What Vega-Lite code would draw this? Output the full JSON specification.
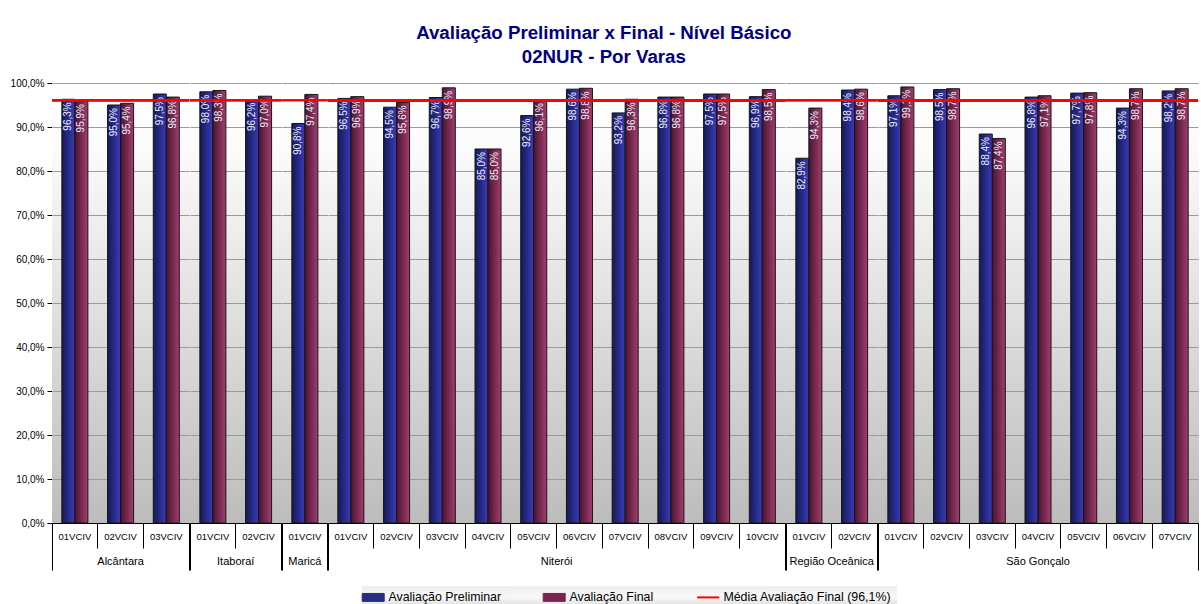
{
  "$schema": "https://vega.github.io/schema/vega-lite/v6.json",
  "background": "white",
  "padding": {"left": 10, "top": 24, "right": 4, "bottom": 0},
  "bounds": "flush",
  "config": {
    "locale": {"number": {"decimal": ",", "thousands": ".", "grouping": [3], "currency": ["R$", ""]}},
    "font": "Liberation Sans",
    "view": {
      "fill": {"gradient": "linear", "x1": 0, "y1": 0, "x2": 0, "y2": 1, "stops": [{"offset": 0, "color": "#ffffff"}, {"offset": 0.15, "color": "#fbfbfb"}, {"offset": 1, "color": "#bcbcbc"}]},
      "stroke": {"gradient": "linear", "x1": 0, "y1": 0, "x2": 0, "y2": 1, "stops": [{"offset": 0, "color": "#ffffff"}, {"offset": 0.15, "color": "#fbfbfb"}, {"offset": 1, "color": "#bcbcbc"}]},
      "strokeWidth": 1
    },
    "axis": {"domainColor": "#000000", "tickColor": "#000000", "labelColor": "#000000", "labelFont": "Liberation Sans"}
  },
  "title": {
    "text": ["Avaliação Preliminar x Final - Nível Básico", "02NUR - Por Varas"],
    "font": "Liberation Sans", "fontSize": 18.7, "fontWeight": "bold", "color": "#000080",
    "anchor": "middle", "dx": -1, "lineHeight": 24, "offset": 11
  },
  "data": {"values": [
    {"g": "Alcântara", "v": "01VCIV", "p": 0.963, "f": 0.959},
    {"g": "Alcântara", "v": "02VCIV", "p": 0.950, "f": 0.954},
    {"g": "Alcântara", "v": "03VCIV", "p": 0.975, "f": 0.968},
    {"g": "Itaboraí", "v": "01VCIV", "p": 0.980, "f": 0.983},
    {"g": "Itaboraí", "v": "02VCIV", "p": 0.962, "f": 0.970},
    {"g": "Maricá", "v": "01VCIV", "p": 0.908, "f": 0.974},
    {"g": "Niterói", "v": "01VCIV", "p": 0.965, "f": 0.969},
    {"g": "Niterói", "v": "02VCIV", "p": 0.945, "f": 0.956},
    {"g": "Niterói", "v": "03VCIV", "p": 0.967, "f": 0.989},
    {"g": "Niterói", "v": "04VCIV", "p": 0.850, "f": 0.850},
    {"g": "Niterói", "v": "05VCIV", "p": 0.926, "f": 0.961},
    {"g": "Niterói", "v": "06VCIV", "p": 0.986, "f": 0.988},
    {"g": "Niterói", "v": "07VCIV", "p": 0.932, "f": 0.963},
    {"g": "Niterói", "v": "08VCIV", "p": 0.968, "f": 0.968},
    {"g": "Niterói", "v": "09VCIV", "p": 0.975, "f": 0.975},
    {"g": "Niterói", "v": "10VCIV", "p": 0.969, "f": 0.985},
    {"g": "Região Oceânica", "v": "01VCIV", "p": 0.829, "f": 0.943},
    {"g": "Região Oceânica", "v": "02VCIV", "p": 0.984, "f": 0.986},
    {"g": "São Gonçalo", "v": "01VCIV", "p": 0.971, "f": 0.991},
    {"g": "São Gonçalo", "v": "02VCIV", "p": 0.985, "f": 0.987},
    {"g": "São Gonçalo", "v": "03VCIV", "p": 0.884, "f": 0.874},
    {"g": "São Gonçalo", "v": "04VCIV", "p": 0.968, "f": 0.971},
    {"g": "São Gonçalo", "v": "05VCIV", "p": 0.977, "f": 0.978},
    {"g": "São Gonçalo", "v": "06VCIV", "p": 0.943, "f": 0.987},
    {"g": "São Gonçalo", "v": "07VCIV", "p": 0.982, "f": 0.987}
  ]},
  "transform": [
    {"fold": ["p", "f"], "as": ["k", "val"]},
    {"calculate": "datum.g + '|' + datum.v", "as": "id"}
  ],
  "facet": {
    "column": {
      "field": "g", "type": "nominal",
      "sort": ["Alcântara", "Itaboraí", "Maricá", "Niterói", "Região Oceânica", "São Gonçalo"],
      "title": null,
      "header": {"labelOrient": "bottom", "labelFont": "Liberation Sans", "labelFontSize": 11, "labelColor": "#000000", "labelPadding": 33}
    }
  },
  "spacing": 0,
  "resolve": {"scale": {"x": "independent"}},
  "spec": {
    "width": {"step": 13.003},
    "height": 440,
    "layer": [
      {
        "mark": {"type": "bar", "stroke": "#151515", "strokeWidth": 1},
        "encoding": {
          "x": {"field": "id", "type": "nominal", "sort": null,
            "scale": {"paddingInner": 0, "paddingOuter": 0},
            "axis": {"title": null, "labelAngle": 0, "labelFontSize": 9.5,
              "labelExpr": "datum.label ? split(datum.label, '|')[1] : ''",
              "bandPosition": 1, "tickExtra": true, "tickSize": 47, "labelPadding": -39,
              "tickDash": {"condition": {"test": "datum.index == -1 || datum.index == 1 || datum.value == 'Maricá|01VCIV'", "value": [100, 0]}, "value": [25, 100]}}},
          "xOffset": {"field": "k", "type": "nominal", "sort": ["p", "f"], "scale": {"paddingInner": 0, "paddingOuter": 0.758}},
          "y": {"field": "val", "type": "quantitative", "scale": {"domain": [0, 1], "nice": false},
            "axis": {"title": null, "format": ".1%", "values": [0, 0.1, 0.2, 0.3, 0.4, 0.5, 0.6, 0.7, 0.8, 0.9, 1],
              "tickSize": 5, "labelFontSize": 10, "labelPadding": 3, "gridColor": "#9a9a9a", "gridWidth": 1}},
          "color": {
            "condition": {"test": "datum.k == 'f'", "value": {"gradient": "linear", "x1": 0, "y1": 0, "x2": 1, "y2": 0, "stops": [{"offset": 0, "color": "#4a1430"}, {"offset": 1, "color": "#a33d70"}]}},
            "value": {"gradient": "linear", "x1": 0, "y1": 0, "x2": 1, "y2": 0, "stops": [{"offset": 0, "color": "#141a55"}, {"offset": 1, "color": "#3a3ab8"}]}
          }
        }
      },
      {
        "mark": {"type": "text", "angle": 270, "align": "right", "baseline": "middle", "dx": -3, "fontSize": 10, "font": "Liberation Sans", "color": "#eeeeff"},
        "encoding": {
          "x": {"field": "id", "type": "nominal", "sort": null},
          "xOffset": {"field": "k", "type": "nominal", "sort": ["p", "f"]},
          "y": {"field": "val", "type": "quantitative"},
          "text": {"field": "val", "type": "quantitative", "format": ".1%"}
        }
      },
      {
        "mark": {"type": "rule", "strokeWidth": 2},
        "encoding": {
          "y": {"datum": 0.961},
          "color": {
            "datum": "Média Avaliação Final (96,1%)",
            "scale": {"domain": ["Avaliação Preliminar", "Avaliação Final", "Média Avaliação Final (96,1%)"], "range": ["#262c82", "#7a2453", "#ff0000"]},
            "legend": {
              "title": null, "orient": "none", "legendX": 310, "legendY": 503, "direction": "horizontal",
              "symbolSize": 484, "labelFont": "Liberation Sans", "labelFontSize": 12.4, "labelColor": "#000000",
              "labelOffset": 9, "columnPadding": 39, "padding": 5, "labelLimit": 400,
              "encode": {
                "symbols": {"update": {
                  "shape": {"signal": "datum.value === 'Média Avaliação Final (96,1%)' ? 'M-1,0H1' : 'M-1,-0.36H1V0.36H-1Z'"},
                  "fill": {"signal": "datum.value === 'Avaliação Preliminar' ? '#262c82' : datum.value === 'Avaliação Final' ? '#7a2453' : 'transparent'"},
                  "stroke": {"signal": "datum.value === 'Média Avaliação Final (96,1%)' ? '#ff0000' : '#111111'"},
                  "strokeWidth": {"signal": "datum.value === 'Média Avaliação Final (96,1%)' ? 2 : 1"},
                  "opacity": {"value": 1}
                }},
                "legend": {"update": {"fill": {"value": {"gradient": "linear", "x1": 0, "y1": 0, "x2": 0, "y2": 1, "stops": [{"offset": 0, "color": "#eeeeee"}, {"offset": 0.5, "color": "#f8f8f8"}, {"offset": 1, "color": "#d4d4d4"}]}}}}
              }
            }
          }
        }
      }
    ]
  }
}
